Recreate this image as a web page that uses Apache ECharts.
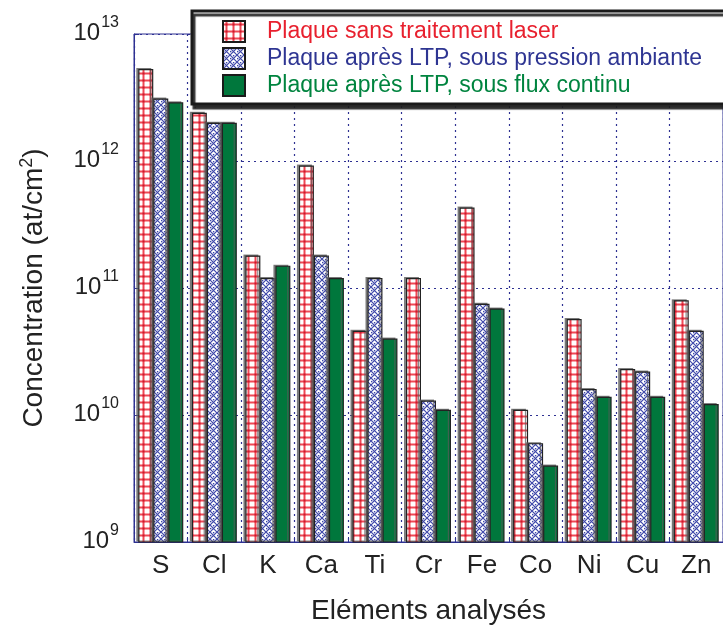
<!DOCTYPE html>
<html>
<head>
<meta charset="utf-8">
<script src="https://cdn.jsdelivr.net/npm/echarts@6/dist/echarts.min.js"></script>
<style>
html,body{margin:0;padding:0;background:#fff;}
#chart{width:723px;height:633px;}
</style>
</head>
<body>
<div id="chart"></div>
<script>
// ---- data ----
const categories = ['S', 'Cl', 'K', 'Ca', 'Ti', 'Cr', 'Fe', 'Co', 'Ni', 'Cu', 'Zn'];
const seriesNames = [
  'Plaque sans traitement laser',
  'Plaque après LTP, sous pression ambiante',
  'Plaque après LTP, sous flux continu'
];
const sansTraitement = [5.3e12, 2.4e12, 1.8e11, 9.2e11, 4.6e10, 1.2e11, 4.3e11, 1.1e10, 5.7e10, 2.3e10, 8.0e10];
const ltpAmbiante    = [3.1e12, 2.0e12, 1.2e11, 1.8e11, 1.2e11, 1.3e10, 7.5e10, 6.0e9, 1.6e10, 2.2e10, 4.6e10];
const ltpFlux        = [2.9e12, 2.0e12, 1.5e11, 1.2e11, 4.0e10, 1.1e10, 6.9e10, 4.0e9, 1.39e10, 1.39e10, 1.22e10];
const yMin = 1e9, yMax = 1e13;

// ---- patterns ----
function redGrid() {
  const c = document.createElement('canvas');
  c.width = 7; c.height = 7;
  const g = c.getContext('2d');
  g.fillStyle = '#fff'; g.fillRect(0, 0, 7, 7);
  g.strokeStyle = 'rgba(236,40,55,0.85)';
  g.lineWidth = 2;
  g.beginPath();
  g.moveTo(3.5, 0); g.lineTo(3.5, 7);
  g.moveTo(0, 3.5); g.lineTo(7, 3.5);
  g.stroke();
  g.fillStyle = 'rgba(200,20,40,0.9)';
  g.fillRect(2.5, 2.5, 2, 2);
  return c;
}
function blueHatch() {
  const c = document.createElement('canvas');
  c.width = 7; c.height = 7;
  const g = c.getContext('2d');
  g.fillStyle = '#fff'; g.fillRect(0, 0, 7, 7);
  g.strokeStyle = 'rgba(40,50,160,0.9)';
  g.lineWidth = 1.2;
  g.beginPath();
  g.moveTo(-1, -1); g.lineTo(8, 8);
  g.moveTo(8, -1); g.lineTo(-1, 8);
  g.stroke();
  g.fillStyle = 'rgba(40,50,160,0.9)';
  g.fillRect(2.9, 0, 1.4, 1.4);
  g.fillRect(0, 2.9, 1.4, 1.4);
  return c;
}
const fills = [
  { image: redGrid(), repeat: 'repeat' },
  { image: blueHatch(), repeat: 'repeat' },
  '#00773c'
];
const textColors = ['#e8202e', '#2e3592', '#00843f'];
const seriesData = [sansTraitement, ltpAmbiante, ltpFlux];

const chart = echarts.init(document.getElementById('chart'));
const axisBlue = '#2e3192';
const font = 'Liberation Sans, Arial, Helvetica, sans-serif';

chart.setOption({
  animation: false,
  backgroundColor: '#fff',
  grid: {
    left: 134, top: 34, bottom: 91, right: -14,
    show: true, borderColor: axisBlue, borderWidth: 1, backgroundColor: 'transparent'
  },
  legend: {
    orient: 'vertical',
    left: 192, top: 11,
    itemWidth: 22, itemHeight: 21, itemGap: 4,
    padding: [9, 80, 7, 30],
    backgroundColor: '#fff',
    borderColor: '#1a1a1a', borderWidth: 3,
    shadowColor: 'rgba(30,30,30,0.9)', shadowBlur: 1, shadowOffsetX: 2, shadowOffsetY: 4,
    itemStyle: { borderColor: '#1a1a1a', borderWidth: 2, shadowColor: 'transparent' },
    textStyle: { fontFamily: font, fontSize: 23, padding: [0, 0, 0, 17] },
    data: seriesNames.map((n, i) => ({ name: n, icon: 'rect', textStyle: { color: textColors[i] } }))
  },
  xAxis: {
    type: 'category',
    data: categories,
    boundaryGap: true,
    axisLine: { lineStyle: { color: axisBlue, width: 1 } },
    axisTick: { show: true, inside: true, length: 5, lineStyle: { color: axisBlue } },
    axisLabel: { color: '#222', fontFamily: font, fontSize: 26, margin: 11 },
    splitLine: { show: true, lineStyle: { color: axisBlue, type: [2, 4], width: 1.2 } },
    name: 'Eléments analysés',
    nameLocation: 'middle',
    nameGap: 55,
    nameTextStyle: { color: '#222', fontFamily: font, fontSize: 28 }
  },
  yAxis: {
    type: 'log',
    logBase: 10,
    min: yMin, max: yMax,
    axisLine: { show: true, lineStyle: { color: axisBlue, width: 1 } },
    axisTick: { show: true, inside: true, length: 5, lineStyle: { color: axisBlue } },
    splitLine: { show: true, lineStyle: { color: axisBlue, type: [2, 4], width: 1.2 } },
    axisLabel: {
      margin: 15,
      formatter: v => '{b|10}{s|' + Math.round(Math.log10(v)) + '}',
      rich: {
        b: { fontFamily: font, fontSize: 24, color: '#222', lineHeight: 30, verticalAlign: 'bottom' },
        s: { fontFamily: font, fontSize: 16, color: '#222', lineHeight: 30, verticalAlign: 'top', padding: [0, 0, 0, 1] }
      },
      padding: [0, 0, 8, 0]
    },
    name: 'Concentration (at/cm{s|2})',
    nameLocation: 'middle',
    nameGap: 84,
    nameTextStyle: {
      color: '#222', fontFamily: font, fontSize: 28,
      rich: {
        s: { fontFamily: font, fontSize: 18, color: '#222', verticalAlign: 'top', lineHeight: 32 }
      }
    }
  },
  series: seriesNames.map((n, i) => ({
    name: n,
    type: 'bar',
    data: seriesData[i],
    barWidth: 15,
    barGap: '0%',
    itemStyle: {
      color: fills[i],
      borderColor: '#222',
      borderWidth: 1.2,
      shadowColor: 'rgba(90,90,90,0.7)',
      shadowBlur: 0,
      shadowOffsetX: -2,
      shadowOffsetY: -1
    }
  }))
});
</script>
</body>
</html>
